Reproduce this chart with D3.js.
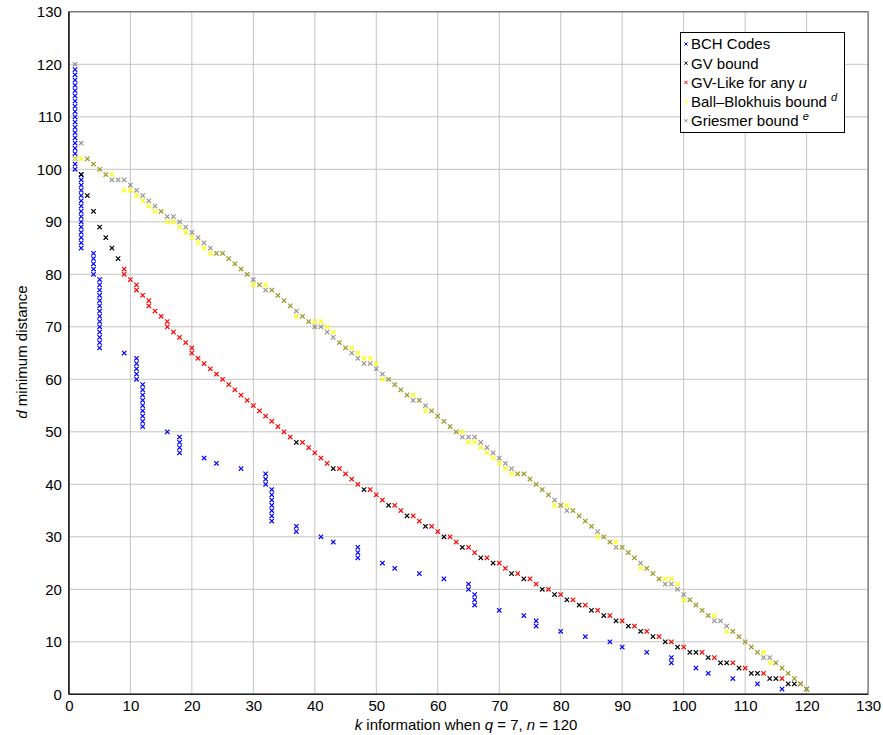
<!DOCTYPE html>
<html><head><meta charset="utf-8">
<script src="https://cdn.jsdelivr.net/npm/d3@7"></script>
<style>body{margin:0;background:#fff}svg{display:block}text{font-family:"Liberation Sans",Arial,Helvetica,sans-serif}</style>
</head><body><svg id="c" width="883" height="735"></svg>
<script>
// ---------- data ----------
const xTicks = [0,10,20,30,40,50,60,70,80,90,100,110,120,130];
const yTicks = [0,10,20,30,40,50,60,70,80,90,100,110,120,130];

// BCH codes: k and d (paired)
const bchK = [1,1,1,1,1,1,1,1,1,1,1,1,1,1,1,1,1,1,1,1,
  2,2,2,2,2,2,2,2,2,2,2,2,2,2,2,
  4,4,4,4,4,
  5,5,5,5,5,5,5,5,5,5,5,5,5,5,
  9,11,11,11,11,11,12,12,12,12,12,12,12,12,12,
  16,18,18,18,18,22,24,28,32,32,32,33,33,33,33,33,33,33,
  37,37,41,43,47,47,47,51,53,57,61,65,65,66,66,66,70,74,76,76,80,84,88,90,94,98,98,102,104,108,112,116];
const bchD = [119,118,117,116,115,114,113,112,111,110,109,108,107,106,105,104,103,102,101,100,
  99,98,97,96,95,94,93,92,91,90,89,88,87,86,85,
  84,83,82,81,80,
  79,78,77,76,75,74,73,72,71,70,69,68,67,66,
  65,64,63,62,61,60,59,58,57,56,55,54,53,52,51,
  50,49,48,47,46,45,44,43,42,41,40,39,38,37,36,35,34,33,
  32,31,30,29,28,27,26,25,24,23,22,21,20,19,18,17,16,15,14,13,12,11,10,9,8,7,6,5,4,3,2,1];

// GV bound: d for k = 2..120
const gvD = [99,95,92,89,87,85,83,80,79,77,76,74,73,72,70,69,68,67,65,64,
  63,62,61,60,59,58,57,56,55,54,53,52,51,50,49,48,48,47,46,45,
  44,43,43,42,41,40,39,39,38,37,36,36,35,34,34,33,32,32,31,30,
  30,29,28,28,27,26,26,25,25,24,23,23,22,22,21,20,20,19,19,18,
  18,17,17,16,16,15,15,14,14,13,13,12,12,11,11,10,10,9,9,8,
  8,8,7,7,6,6,6,5,5,4,4,4,3,3,3,2,2,2,1];
const gvFirstK = 2;

// GV-like for any u: k and d (paired)
const gvlK = [9,9,10,11,11,12,13,13,14,15,16,16,17,18,19,20,20,21,22,23,24,25,26,27,28,29,30,31,32,33,34,35,36,
  38,39,40,41,42,44,45,46,47,49,50,51,53,54,56,57,59,60,62,63,65,66,68,70,71,73,75,76,78,80,82,84,86,88,90,92,94,96,98,100,103,105,108,110,113,116,119];
const gvlD = [81,80,79,78,77,76,75,74,73,72,71,70,69,68,67,66,65,64,63,62,61,60,59,58,57,56,55,54,53,52,51,50,49,
  48,47,46,45,44,43,42,41,40,39,38,37,36,35,34,33,32,31,30,29,28,27,26,25,24,23,22,21,20,19,18,17,16,15,14,13,12,11,10,9,8,7,6,5,4,3,2];

// Ball–Blokhuis bound: d for k = 1..120 (null = not drawn)
const bbD = [102,102,102,101,100,99,99,null,96,96,95,94,93,92,92,90,90,89,88,87,
  86,85,84,84,84,83,82,81,80,78,78,78,77,76,75,74,72,72,71,71,
  71,70,69,67,66,66,65,64,64,63,60,60,59,58,57,57,56,54,54,53,
  52,51,50,50,48,48,47,46,45,44,43,42,42,42,41,40,39,38,36,36,
  36,35,34,33,32,30,30,29,29,28,27,26,24,24,23,22,22,22,21,18,
  18,17,16,15,15,null,12,12,11,10,9,8,8,6,6,5,4,3,2,1];

// Griesmer bound: d for k = 1..120
const grD = [120,105,102,101,100,99,98,98,98,97,96,95,94,93,92,91,91,90,89,88,
  87,86,85,84,84,83,82,81,80,79,78,77,77,76,75,74,73,72,71,70,
  70,69,68,67,66,65,64,63,63,62,61,60,59,58,57,56,56,55,54,53,
  52,51,50,49,49,49,48,47,46,45,44,43,42,42,41,40,39,38,37,36,
  35,35,34,33,32,31,30,29,28,28,27,26,25,24,23,22,21,21,20,19,
  18,17,16,15,14,14,13,12,11,10,9,8,7,7,6,5,4,3,2,1];

const seriesNames = ["BCH Codes","GV bound","GV-Like for any ","Ball\u2013Blokhuis bound ","Griesmer bound "];
const seriesColors = ["#0000ff","#000000","#ff0000","#ffff00","#6e6e6e"];

// ---------- drawing ----------
const svg = d3.select("#c");
const x = d3.scaleLinear().domain([0,130]).range([68.9,868.1]);
const y = d3.scaleLinear().domain([0,130]).range([694.3,11.8]);

// grid
const g = svg.append("g");
g.selectAll(".gx").data(xTicks).join("line")
  .attr("x1",d=>x(d)).attr("x2",d=>x(d)).attr("y1",y(0)).attr("y2",y(130))
  .attr("stroke","#c4c4c4").attr("stroke-width",1);
g.selectAll(".gy").data(yTicks).join("line")
  .attr("y1",d=>y(d)).attr("y2",d=>y(d)).attr("x1",x(0)).attr("x2",x(130))
  .attr("stroke","#c4c4c4").attr("stroke-width",1);

// axes
const ax = svg.append("g").attr("transform",`translate(0,${y(0)})`)
  .call(d3.axisBottom(x).tickValues(xTicks).tickSize(0).tickPadding(6).tickFormat(d3.format("d")));
const ay = svg.append("g").attr("transform",`translate(${x(0)},0)`)
  .call(d3.axisLeft(y).tickValues(yTicks).tickSize(0).tickPadding(7).tickFormat(d3.format("d")));
[ax,ay].forEach(a=>{a.select(".domain").remove(); a.selectAll("text").attr("font-size",15).attr("fill","#000")
  .style("font-family",'"Liberation Sans",Arial,sans-serif');});

// frame
svg.append("rect").attr("x",x(0)).attr("y",y(130)).attr("width",x(130)-x(0)).attr("height",y(0)-y(130))
  .attr("fill","none").attr("stroke","#555").attr("stroke-width",1);
svg.append("line").attr("x1",x(0)).attr("x2",x(130)).attr("y1",y(0)).attr("y2",y(0)).attr("stroke","#222").attr("stroke-width",1.6);
svg.append("line").attr("x1",x(0)).attr("x2",x(0)).attr("y1",y(0)).attr("y2",y(130)).attr("stroke","#222").attr("stroke-width",1.6);

// marker
const cross = "M-2.2,-2.2L2.2,2.2M-2.2,2.2L2.2,-2.2";
function drawPts(pts, color, op){
  svg.append("g").selectAll("path").data(pts).join("path")
    .attr("d",cross).attr("transform",p=>`translate(${x(p[0])},${y(p[1])})`)
    .attr("fill","none").attr("stroke",color).attr("stroke-width",1.15).attr("opacity",op);
}
const redPts = gvlK.map((k,i)=>[k,gvlD[i]]);
const redSet = new Set(redPts.map(p=>p[0]+"_"+p[1]));
drawPts(bchK.map((k,i)=>[k,bchD[i]]), seriesColors[0], 1);
// GV points hidden exactly beneath GV-like marks are skipped to avoid dark fringes
drawPts(gvD.map((d,i)=>[i+gvFirstK,d]).filter(p=>!redSet.has(p[0]+"_"+p[1])), seriesColors[1], 1);
drawPts(redPts, seriesColors[2], 1);
drawPts(bbD.map((d,i)=>[i+1,d]).filter(p=>p[1]!==null), seriesColors[3], 1);
drawPts(grD.map((d,i)=>[i+1,d]), seriesColors[4], 0.72);

// legend
const lg = svg.append("g");
lg.append("rect").attr("x",680.5).attr("y",32.5).attr("width",164).attr("height",100)
  .attr("fill","#fff").attr("stroke","#000").attr("stroke-width",1);
const sups = [null,null,"u","d","e"];
seriesNames.forEach((nm,i)=>{
  const cy = 44 + i*19.2;
  lg.append("path").attr("d","M-1.6,-1.6L1.6,1.6M-1.6,1.6L1.6,-1.6").attr("transform",`translate(686,${cy})`)
    .attr("stroke",seriesColors[i]).attr("stroke-width",1).attr("fill","none").attr("opacity",i===4?0.72:1);
  const t = lg.append("text").attr("x",691).attr("y",cy+5.3).attr("font-size",15).attr("fill","#000");
  t.append("tspan").text(nm);
  if(i===2) t.append("tspan").attr("font-style","italic").text("u");
  if(i===3||i===4) t.append("tspan").attr("font-style","italic").attr("font-size",11).attr("dy",-6).text(" "+sups[i]);
});

// axis titles
const xt = svg.append("text").attr("x",466).attr("y",730).attr("text-anchor","middle").attr("font-size",15);
xt.append("tspan").attr("font-style","italic").text("k");
xt.append("tspan").text(" information when ");
xt.append("tspan").attr("font-style","italic").text("q");
xt.append("tspan").text(" = 7, ");
xt.append("tspan").attr("font-style","italic").text("n");
xt.append("tspan").text(" = 120");
const yt = svg.append("text").attr("transform","translate(27,352) rotate(-90)").attr("text-anchor","middle").attr("font-size",15);
yt.append("tspan").attr("font-style","italic").text("d");
yt.append("tspan").text(" minimum distance");
</script></body></html>
